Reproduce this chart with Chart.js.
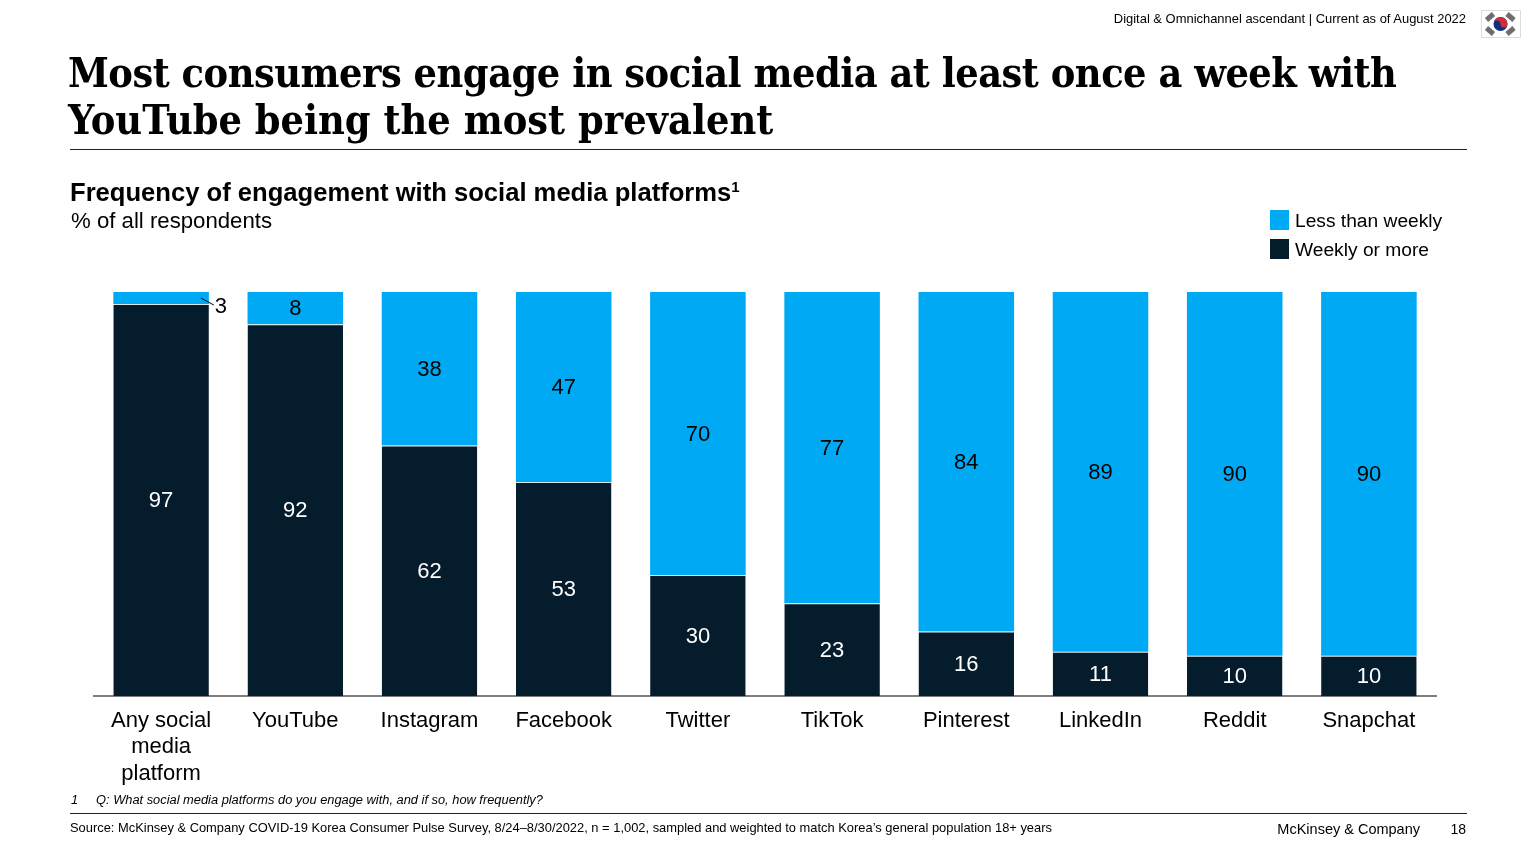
<!DOCTYPE html>
<html>
<head>
<meta charset="utf-8">
<title>Frequency of engagement with social media platforms</title>
<script src="https://cdn.jsdelivr.net/npm/chart.js@4"></script>
<style>
  html, body { margin: 0; padding: 0; background: #fff; width: 1536px; height: 864px; overflow: hidden; }
  body { font-family: "Liberation Sans", Arial, sans-serif; color: #000; position: relative; }
  #chart { position: absolute; left: 0; top: 0; }
  .t { position: absolute; white-space: nowrap; line-height: 1; }
  .rule { position: absolute; left: 70px; width: 1397px; height: 1px; background: #222; }
  #title { left: 68px; top: 50px; font-family: "DejaVu Serif Condensed", "DejaVu Serif", Georgia, serif; font-weight: bold; font-size: 41px; line-height: 46.5px; }
  #title span { letter-spacing: -0.5px; }
  #subtitle { left: 70px; top: 180px; font-weight: bold; font-size: 25.6px; }
  #subtitle sup { font-size: 15px; line-height: 0; vertical-align: 9px; }
  #unit { left: 71px; top: 210px; font-size: 22.2px; }
  .legend-row { position: absolute; left: 1270px; height: 20px; }
  .legend-row i { position: absolute; left: 0; top: 0; width: 19px; height: 20px; }
  .legend-row span { position: absolute; left: 25px; top: 0; font-size: 19.2px; white-space: nowrap; line-height: 22px; }
  #flag { position: absolute; left: 1481px; top: 10px; }
</style>
</head>
<body>
<canvas id="chart" width="1536" height="864"></canvas>

<div class="t" id="header" style="right:70px;top:13px;font-size:12.95px">Digital &amp; Omnichannel ascendant | Current as of August 2022</div>
<svg id="flag" width="40" height="28" viewBox="0 0 40 28">
  <rect x="0.5" y="0.5" width="39" height="27" fill="#fff" stroke="#ddd"/>
  <g stroke="#555" stroke-width="5" opacity="0.85">
    <path d="M5.5 10L12.5 4"/><path d="M26 4L33 10"/><path d="M5.5 18L12.5 24"/><path d="M26 24L33 18"/>
  </g>
  <circle cx="19.5" cy="14" r="7" fill="#0f2f7f"/>
  <path d="M12.5 14a7 7 0 0 1 14 0a3.5 3.5 0 0 1-7 0a3.5 3.5 0 0 0-7 0z" fill="#cd2e3a"/>
</svg>
<div class="t" id="title"><span>Most consumers engage in social media at least once a week with</span><br>YouTube being the most prevalent</div>
<div class="rule" style="top:149px"></div>
<div class="t" id="subtitle">Frequency of engagement with social media platforms<sup>1</sup></div>
<div class="t" id="unit">% of all respondents</div>
<div id="legend"></div>

<div class="t" style="left:71px;top:794px;font-size:12.85px;font-style:italic">1</div>
<div class="t" style="left:96px;top:794px;font-size:12.85px;font-style:italic">Q: What social media platforms do you engage with, and if so, how frequently?</div>
<div class="rule" style="top:813px"></div>
<div class="t" style="left:70px;top:822px;font-size:12.9px">Source: McKinsey &amp; Company COVID-19 Korea Consumer Pulse Survey, 8/24–8/30/2022, n = 1,002, sampled and weighted to match Korea’s general population 18+ years</div>
<div class="t" style="right:116px;top:822px;font-size:14.5px">McKinsey &amp; Company</div>
<div class="t" style="right:70px;top:822px;font-size:14px">18</div>

<script>
const categories = [['Any social', 'media', 'platform'], 'YouTube', 'Instagram', 'Facebook', 'Twitter', 'TikTok', 'Pinterest', 'LinkedIn', 'Reddit', 'Snapchat'];
const weeklyOrMore = [97, 92, 62, 53, 30, 23, 16, 11, 10, 10];
const lessThanWeekly = [3, 8, 38, 47, 70, 77, 84, 89, 90, 90];

const DARK = '#051c2c';
const BLUE = '#00a9f4';
const FONT = '"Liberation Sans", Arial, sans-serif';

// legend goes top down, opposite of the stack
[['Less than weekly', BLUE, 210], ['Weekly or more', DARK, 239]].forEach(([name, color, top]) => {
  const row = document.createElement('div');
  row.className = 'legend-row';
  row.style.top = top + 'px';
  row.innerHTML = `<i style="background:${color}"></i><span>${name}</span>`;
  document.getElementById('legend').appendChild(row);
});

// Chart.js has no value labels of its own
const barLabels = {
  id: 'barLabels',
  afterDatasetsDraw(chart) {
    const ctx = chart.ctx;
    ctx.save();
    ctx.font = '22px ' + FONT;
    ctx.textAlign = 'center';
    ctx.textBaseline = 'middle';
    chart.data.datasets.forEach((ds, i) => {
      chart.getDatasetMeta(i).data.forEach((bar, j) => {
        const p = bar.getProps(['x', 'y', 'base', 'width'], true);
        const midY = (p.y + p.base) / 2 + 1;
        ctx.fillStyle = i === 0 ? '#fff' : '#000';
        if (ds.data[j] < 5) {
          // too thin to hold the number, so it sits outside with a leader
          const right = p.x + p.width / 2;
          ctx.fillText(ds.data[j], right + 12, midY + 8);
          ctx.strokeStyle = '#000';
          ctx.lineWidth = 1;
          ctx.beginPath();
          ctx.moveTo(right - 8, midY - 1);
          ctx.lineTo(right + 5, midY + 6);
          ctx.stroke();
        } else {
          ctx.fillText(ds.data[j], p.x, midY);
        }
      });
    });
    ctx.restore();
  }
};

new Chart(document.getElementById('chart'), {
  type: 'bar',
  data: {
    labels: categories,
    datasets: [
      { label: 'Weekly or more', data: weeklyOrMore, backgroundColor: DARK, borderColor: '#dfe6ea', borderWidth: { top: 1, right: 0, bottom: 0, left: 0 }, borderSkipped: false },
      { label: 'Less than weekly', data: lessThanWeekly, backgroundColor: BLUE, borderWidth: 0 }
    ]
  },
  options: {
    responsive: false,
    animation: false,
    layout: { padding: { left: 94, right: 100, top: 292, bottom: 66 } },
    datasets: { bar: { categoryPercentage: 1, barPercentage: 0.712 } },
    plugins: { legend: { display: false }, tooltip: { enabled: false } },
    scales: {
      x: {
        stacked: true,
        grid: { display: false, drawTicks: false },
        border: { display: true, color: '#7f7f7f', width: 2 },
        ticks: { color: '#000', font: { family: FONT, size: 22, lineHeight: 1.21 }, padding: 11, maxRotation: 0, autoSkip: false }
      },
      y: { stacked: true, display: false, min: 0, max: 100, afterFit(s) { s.width = 0; } }
    }
  },
  plugins: [barLabels]
});
</script>
</body>
</html>
